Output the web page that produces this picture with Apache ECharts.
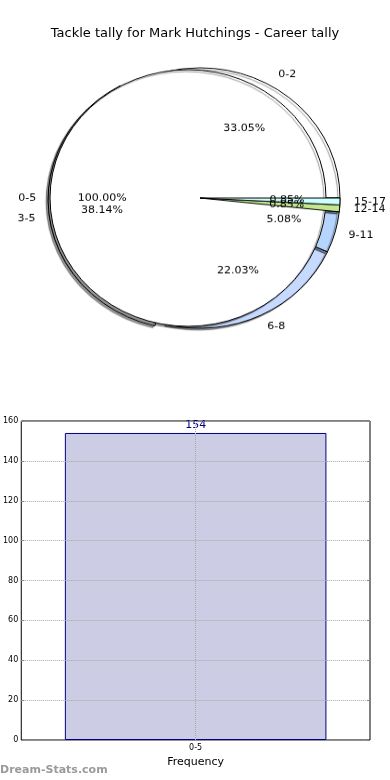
<!DOCTYPE html>
<html><head><meta charset="utf-8">
<script src="https://cdn.jsdelivr.net/npm/echarts@6/dist/echarts.min.js"></script>
<style>
html,body{margin:0;padding:0;background:#fff;}
#wrap{position:relative;width:390px;height:780px;}
#main{position:absolute;left:0;top:0;width:390px;height:780px;}
#pie{position:absolute;left:0;top:0;width:390px;height:396px;transform:scaleY(0.93);transform-origin:0 198px;pointer-events:none;}
</style></head><body>
<div id="wrap"><div id="main"></div><div id="pie"></div></div>
<script>
// ---- data ----
const titleText = 'Tackle tally for Mark Hutchings - Career tally';
const pieCategories = ['0-2', '3-5', '6-8', '9-11', '12-14', '15-17'];
const pieValues = [39, 45, 26, 6, 1, 1];
const totalCategories = ['0-5'];
const totalValues = [154];
const barCategories = ['0-5'];
const barValues = [154];
const yMin = 0, yMax = 160, yStep = 20;
const xAxisName = 'Frequency';
const watermark = 'Dream-Stats.com';

// ---- styles ----
const FONT = 'DejaVu Sans';
const R_OUT = 140;   // tally pie
const R_IN = 138;    // total pie
const EXPLODE = 12;  // largest slice pulled out
const sliceColors = ['#ffffff', '#ffffff', '#c6d9ff', '#b5d5ff', '#c4e68f', '#ccffff'];
const CLEAR = 'rgba(0,0,0,0)';
const shadow = {shadowColor: 'rgba(0,0,0,0.42)', shadowBlur: 1, shadowOffsetX: -2, shadowOffsetY: 2};

const pieSum = pieValues.reduce((a, b) => a + b, 0);
const totalSum = totalValues.reduce((a, b) => a + b, 0);
const maxIdx = pieValues.indexOf(Math.max(...pieValues));
const totalMaxIdx = totalValues.indexOf(Math.max(...totalValues));

const basePie = {
  type: 'pie', center: [200, 198], startAngle: 0, clockwise: false, animation: false,
  avoidLabelOverlap: false, selectedMode: 'multiple', selectedOffset: EXPLODE,
  emphasis: {disabled: true}, silent: true,
  minAngle: 0, minShowLabelAngle: 0, labelLayout: {hideOverlap: false}
};
const outerLabel = {show: true, position: 'outer', fontFamily: FONT, fontSize: 11, color: '#000',
  distanceToLabelLine: 0, formatter: '{b}'};
const noLine = r => ({show: false, length: r * 0.1, length2: 0});
const pctLabel = sum => ({show: true, position: 'inside', fontFamily: FONT, fontSize: 11, color: '#000',
  formatter: p => (p.value / sum * 100).toFixed(2) + '%'});

const pieChart = echarts.init(document.getElementById('pie'), null, {renderer: 'canvas'});
pieChart.setOption({
  series: [
    // tally pie
    Object.assign({}, basePie, {
      z: 1, radius: R_OUT,
      itemStyle: Object.assign({borderColor: '#000', borderWidth: 1}, shadow),
      label: outerLabel, labelLine: noLine(R_OUT),
      data: pieCategories.map((c, i) => ({name: c, value: pieValues[i], selected: i === maxIdx,
        itemStyle: {color: sliceColors[i]}}))
    }),
    // total pie
    Object.assign({}, basePie, {
      z: 2, radius: R_IN,
      itemStyle: Object.assign({color: '#ffffff', borderColor: '#000', borderWidth: 1}, shadow),
      label: outerLabel, labelLine: noLine(R_IN),
      data: totalCategories.map((c, i) => ({name: c, value: totalValues[i], selected: i === totalMaxIdx}))
    }),
    // thin wedges showing through
    Object.assign({}, basePie, {
      z: 3, radius: R_OUT,
      label: {show: false}, labelLine: {show: false},
      data: pieCategories.map((c, i) => {
        const thin = pieValues[i] / pieSum < 0.02;
        return {name: c, value: pieValues[i], selected: i === maxIdx,
          itemStyle: thin ? {color: sliceColors[i], borderColor: '#000', borderWidth: 1}
                          : {color: CLEAR, borderColor: CLEAR, borderWidth: 0}};
      })
    }),
    // percentage labels
    Object.assign({}, basePie, {
      z: 4, radius: R_OUT * 1.2,
      itemStyle: {color: CLEAR, borderWidth: 0},
      label: pctLabel(pieSum), labelLine: {show: false},
      data: pieCategories.map((c, i) => ({name: c, value: pieValues[i], selected: i === maxIdx}))
    }),
    Object.assign({}, basePie, {
      z: 4, radius: R_IN * 1.2,
      itemStyle: {color: CLEAR, borderWidth: 0},
      label: pctLabel(totalSum), labelLine: {show: false},
      data: totalCategories.map((c, i) => ({name: c, value: totalValues[i], selected: i === totalMaxIdx}))
    })
  ]
});

const gridLine = {type: 'dotted', color: '#a8a8a8', width: 1};
const chart = echarts.init(document.getElementById('main'), null, {renderer: 'canvas'});
chart.setOption({
  animation: false,
  title: {text: titleText, left: 'center', top: 22,
    textStyle: {fontFamily: FONT, fontSize: 13, fontWeight: 'normal', color: '#000'}},
  graphic: [{type: 'text', left: 0, top: 765,
    style: {text: watermark, fontFamily: FONT, fontSize: 11, fontWeight: 'bold', fill: '#9a9a9a'}}],
  grid: {left: 19, right: 20, top: 421, bottom: 40, show: true, borderColor: '#000', borderWidth: 1},
  xAxis: {type: 'category', data: barCategories, axisLine: {show: false}, axisTick: {show: false},
    axisLabel: {fontSize: 8, fontFamily: FONT, color: '#000', margin: 4},
    name: xAxisName, nameLocation: 'middle', nameGap: 17,
    nameTextStyle: {fontSize: 11, fontFamily: FONT, color: '#000'}, splitLine: {show: false}},
  yAxis: [
    {type: 'value', min: yMin, max: yMax, interval: yStep, z: 5, axisLine: {show: false},
      axisTick: {show: true, inside: true, length: 3, lineStyle: {color: '#888'}},
      axisLabel: {fontSize: 8, fontFamily: FONT, color: '#000', margin: 3},
      splitLine: {show: true, lineStyle: gridLine}},
    {type: 'value', min: yMin, max: yMax, interval: yStep, position: 'right', z: 5, axisLine: {show: false},
      axisTick: {show: true, inside: true, length: 3, lineStyle: {color: '#888'}},
      axisLabel: {show: false}, splitLine: {show: false}}
  ],
  series: [{type: 'bar', yAxisIndex: 0, z: 2, data: barValues, barWidth: '75%',
    itemStyle: {color: '#ccccE5', borderColor: '#000080', borderWidth: 1},
    label: {show: true, position: 'top', distance: 2, fontSize: 11, fontFamily: FONT, color: '#000080'},
    markLine: {silent: true, symbol: 'none', label: {show: false}, lineStyle: gridLine, z: 5,
      emphasis: {disabled: true},
      data: barCategories.map(c => [{xAxis: c, y: 421}, {xAxis: c, y: 740}])}}]
});
</script></body></html>
